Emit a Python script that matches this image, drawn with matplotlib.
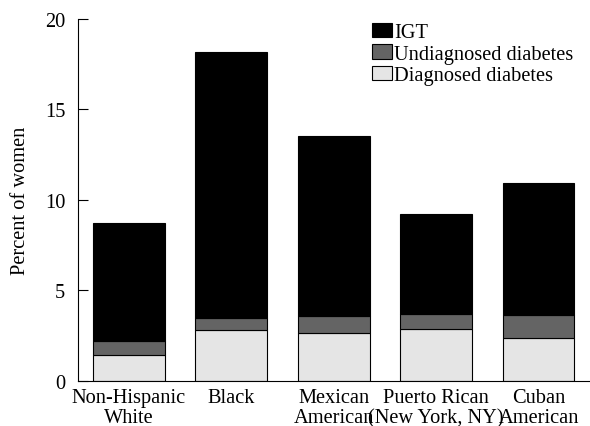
import numpy as np
import matplotlib
matplotlib.use("Agg")
import matplotlib.pyplot as plt

groups = ["Non-Hispanic\nWhite", "Black", "Mexican\nAmerican",
          "Puerto Rican\n(New York, NY)", "Cuban\nAmerican"]
diagnosed = [1.40, 2.78, 2.62, 2.86, 2.34]
undiagnosed = [0.78, 0.68, 0.95, 0.82, 1.28]
igt = [6.55, 14.68, 9.93, 5.53, 7.30]

plt.rcParams['font.family'] = ['Liberation Serif', 'DejaVu Serif']

fig = plt.figure(figsize=(5.9, 4.27), dpi=100)
ax = fig.add_axes([0.1317, 0.106, 0.868, 0.848])

x = np.arange(len(groups))
w = 0.70
b1 = ax.bar(x, diagnosed, w, color='#e5e5e5', edgecolor='black', linewidth=0.8,
            label='Diagnosed diabetes')
bottom2 = np.array(diagnosed)
b2 = ax.bar(x, undiagnosed, w, bottom=bottom2, color='#646464', edgecolor='black',
            linewidth=0.8, label='Undiagnosed diabetes')
bottom3 = bottom2 + np.array(undiagnosed)
b3 = ax.bar(x, igt, w, bottom=bottom3, color='black', edgecolor='black',
            linewidth=0.8, label='IGT')

ax.set_xlim(-0.5, 4.5)
ax.set_ylim(0, 20)
ax.set_yticks([0, 5, 10, 15, 20])
ax.set_xticks(x)
ax.set_xticklabels(groups, fontsize=14.7, linespacing=1.08)
ax.tick_params(axis='y', direction='in', length=7, width=0.8, labelsize=14.7, pad=9)
ax.tick_params(axis='x', length=0, pad=5)
ax.spines['top'].set_visible(False)
ax.spines['right'].set_visible(False)
ax.spines['left'].set_linewidth(0.8)
ax.spines['bottom'].set_linewidth(0.8)
ax.set_ylabel("Percent of women", fontsize=14.7, labelpad=11)

leg = ax.legend([b3, b2, b1], ['IGT', 'Undiagnosed diabetes', 'Diagnosed diabetes'],
                loc='upper left', bbox_to_anchor=(372 / 590, 1 - 24 / 427),
                bbox_transform=fig.transFigure, frameon=False, fontsize=14.7,
                handlelength=1.0, handleheight=0.7, handletextpad=0.1,
                labelspacing=0.1, borderpad=0, borderaxespad=0)

plt.savefig("out.png", dpi=100)
